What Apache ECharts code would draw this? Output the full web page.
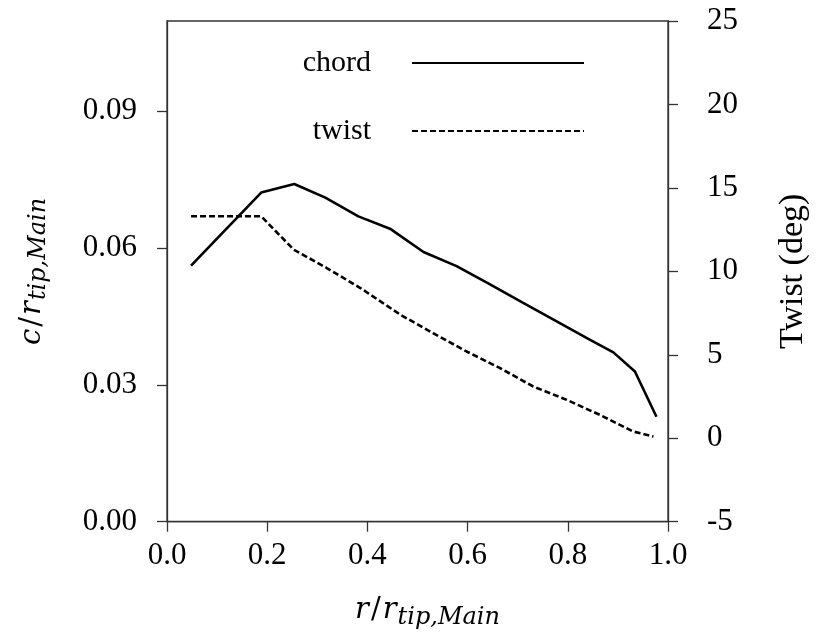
<!DOCTYPE html>
<html><head><meta charset="utf-8">
<script src="https://cdn.jsdelivr.net/npm/echarts@6/dist/echarts.min.js"></script>
<style>html,body{margin:0;padding:0;background:#fff}#c{width:819px;height:633px}</style>
</head><body><div id="c"></div>
<script>
const chordX = [0.048, 0.188, 0.254, 0.316, 0.382, 0.445, 0.512, 0.578, 0.643, 0.710, 0.776, 0.840, 0.891, 0.934, 0.977];
const chordY = [0.0561, 0.0721, 0.0740, 0.0710, 0.0669, 0.0642, 0.0591, 0.0560, 0.0521, 0.0480, 0.0440, 0.0401, 0.0371, 0.0329, 0.0230];
const twistX = [0.048, 0.188, 0.253, 0.319, 0.386, 0.466, 0.531, 0.598, 0.665, 0.731, 0.798, 0.864, 0.931, 0.971];
const twistY = [13.3, 13.3, 11.3, 10.2, 9.0, 7.4, 6.3, 5.2, 4.2, 3.1, 2.3, 1.4, 0.4, 0.1];
const xTicks = [0.0, 0.2, 0.4, 0.6, 0.8, 1.0];
const leftTicks = [0.00, 0.03, 0.06, 0.09];
const rightTicks = [-5, 0, 5, 10, 15, 20, 25];

const F = 'Liberation Serif';
const FN = 'DejaVu Serif';
const AX = '#333';
const chart = echarts.init(document.getElementById('c'));
const nameRich = {
  i: {fontFamily: FN, fontStyle: 'italic', fontSize: 29, color: '#000'},
  n: {fontFamily: FN, fontSize: 29, color: '#000', padding: [0, 2, 0, 2]},
  s: {fontFamily: FN, fontStyle: 'italic', fontSize: 24, color: '#000', padding: [14, 0, 0, 1]}
};
const axisCommon = {
  axisLine: {show: true, lineStyle: {color: AX, width: 1.3}},
  axisTick: {show: true, inside: false, length: 10, lineStyle: {color: AX, width: 1.3}},
  splitLine: {show: false},
  axisLabel: {fontFamily: F, fontSize: 31, color: '#000', margin: 16}
};
const legendText = {fontFamily: F, fontSize: 30, color: '#000', padding: [0, 36, 0, 0]};
chart.setOption({
  animation: false,
  backgroundColor: '#fff',
  grid: {left: 167, right: 151, top: 21, bottom: 111.3, containLabel: false, outerBoundsMode: 'none',
         show: true, borderColor: AX, borderWidth: 1.3},
  legend: [
    {data: ['chord'], orient: 'vertical', align: 'right', right: 234, top: 48, padding: 0,
     itemWidth: 172, itemHeight: 30, itemStyle: {opacity: 0},
     textStyle: legendText},
    {data: ['twist'], orient: 'vertical', align: 'right', right: 234, top: 116, padding: 0,
     itemWidth: 172, itemHeight: 30, itemStyle: {opacity: 0},
     textStyle: legendText}
  ],
  xAxis: Object.assign({}, axisCommon, {
    type: 'value', min: 0, max: 1, interval: 0.2,
    axisLabel: Object.assign({}, axisCommon.axisLabel, {margin: 19, formatter: v => v.toFixed(1), customValues: xTicks}),
    axisTick: Object.assign({}, axisCommon.axisTick, {customValues: xTicks}),
    name: '{i|r}{n|/}{i|r}{s|tip,Main}', nameLocation: 'middle', nameGap: 70,
    nameTextStyle: {rich: nameRich, padding: [0, 0, 0, 20]}
  }),
  yAxis: [
    Object.assign({}, axisCommon, {
      type: 'value', min: 0, max: 0.1097, interval: 0.03, position: 'left',
      axisLabel: Object.assign({}, axisCommon.axisLabel, {margin: 30, formatter: v => v.toFixed(2), customValues: leftTicks}),
      axisTick: Object.assign({}, axisCommon.axisTick, {customValues: leftTicks}),
      name: '{i|c}{n|/}{i|r}{s|tip,Main}', nameLocation: 'middle', nameGap: 116, nameRotate: 90,
      nameTextStyle: {rich: nameRich}
    }),
    Object.assign({}, axisCommon, {
      type: 'value', min: -5, max: 25, interval: 5, position: 'right',
      axisLabel: Object.assign({}, axisCommon.axisLabel, {margin: 39, formatter: v => String(v), customValues: rightTicks}),
      axisTick: Object.assign({}, axisCommon.axisTick, {customValues: rightTicks}),
      name: 'Twist (deg)', nameLocation: 'middle', nameGap: 108, nameRotate: 90,
      nameTextStyle: {fontFamily: F, fontSize: 34, color: '#000'}
    })
  ],
  series: [
    {name: 'chord', type: 'line', yAxisIndex: 0, showSymbol: false, symbol: 'none',
     lineStyle: {color: '#000', width: 2.6, type: 'solid'}, itemStyle: {color: '#000'},
     data: chordX.map((x, i) => [x, chordY[i]])},
    {name: 'twist', type: 'line', yAxisIndex: 1, showSymbol: false, symbol: 'none',
     lineStyle: {color: '#000', width: 2.6, type: [6, 3]}, itemStyle: {color: '#000'},
     data: twistX.map((x, i) => [x, twistY[i]])}
  ]
});
</script></body></html>
